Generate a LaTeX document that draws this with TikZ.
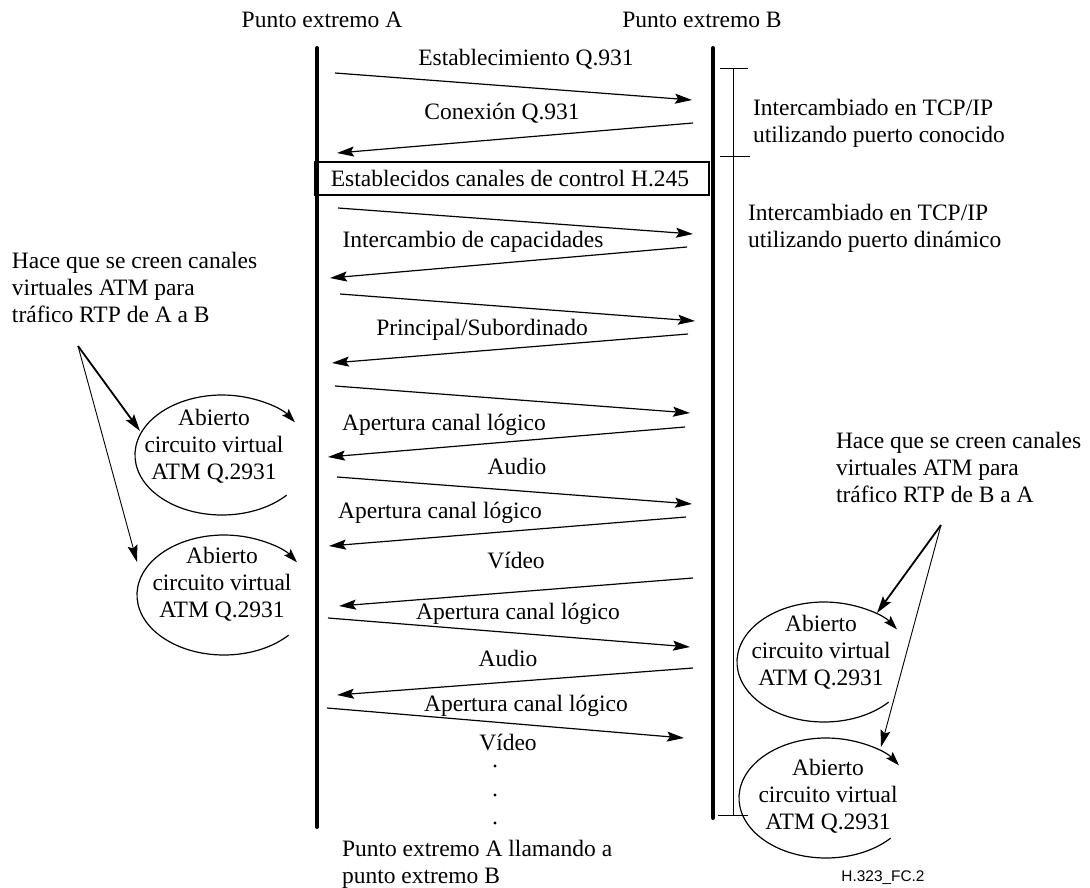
\documentclass[tikz,border=0pt]{standalone}
\usepackage{fontspec}
\setmainfont{Liberation Serif}
\newfontfamily\labelsans{Liberation Sans}
\usetikzlibrary{arrows.meta}
\begin{document}
\begin{tikzpicture}[x=1pt,y=-1pt,
  every node/.style={inner sep=0pt, outer sep=0pt, font=\fontsize{23.5}{27}\selectfont},
  msg/.style={line width=1.2pt, -{Stealth[length=17pt,width=10pt,inset=3pt]}},
  earc/.style={line width=1.2pt, -{Stealth[length=14pt,width=9pt,inset=2.5pt]}},
  annthick/.style={line width=1.8pt, -{Stealth[length=17pt,width=10pt,inset=3pt]}},
  annthin/.style={line width=0.9pt, -{Stealth[length=17pt,width=10pt,inset=3pt]}},
  life/.style={line width=4pt, line cap=round},
  brk/.style={line width=1pt},
  lbl/.style={anchor=base},
  multi/.style={anchor=north west, align=left},
  etext/.style={anchor=north, align=center}]
\fill[white] (0,0) rectangle (1090,888);
\useasboundingbox (0,0) rectangle (1090,888);

% lifelines
\coordinate (Atop) at (317,48); \coordinate (Abot) at (317,827);
\coordinate (Btop) at (713,48); \coordinate (Bbot) at (713,818);
\draw[life] (Atop) -- (Abot);
\draw[life] (Btop) -- (Bbot);
\node[lbl] (hA) at (322,28) {Punto extremo A};
\node[lbl] (hB) at (702,28) {Punto extremo B};

% bracket
\coordinate (k1) at (733,69); \coordinate (k2) at (733,157); \coordinate (k3) at (733,815);
\draw[brk] (k1) -- (k3);
\draw[brk] ([xshift=-13pt]k1) -- ([xshift=15pt]k1);
\draw[brk] ([xshift=-13pt]k2) -- ([xshift=17pt]k2);
\draw[brk] ([xshift=-15pt]k3) -- ([xshift=15pt]k3);
\node[multi] (t1) at (753,99) {Intercambiado en TCP/IP\\utilizando puerto conocido};
\node[multi] (t2) at (748,204) {Intercambiado en TCP/IP\\utilizando puerto dinámico};

% box
\node[draw, line width=1.2pt, minimum width=394pt, minimum height=33pt, anchor=north west] (box) at (315,162) {};
\node[lbl] (boxt) at (510,186) {Establecidos canales de control H.245};

% messages
\foreach \i/\xa/\ya/\xb/\yb in {
  1/335/73/692/100, 2/693/123/337/153, 3/338/208/693/234, 4/687/247/330/278,
  5/340/294/695/321, 6/688/334/332/363, 7/335/386/690/413, 8/685/427/328/457,
  9/337/477/692/504, 10/686/517/329/546, 11/693/578/339/606, 12/328/618/690/647,
  13/693/668/337/695, 14/327/708/684/738} {
  \coordinate (s\i) at (\xa,\ya);
  \coordinate (e\i) at (\xb,\yb);
  \draw[msg] (s\i) -- (e\i);
}
\node[lbl] (m1) at (526,66) {Establecimiento Q.931};
\node[lbl] (m2) at (502,120) {Conexión Q.931};
\node[lbl] (m3) at (473,247) {Intercambio de capacidades};
\node[lbl] (m4) at (482,335) {Principal/Subordinado};
\node[lbl] (m5) at (444,430) {Apertura canal lógico};
\node[lbl] (m6) at (517,474) {Audio};
\node[lbl] (m7) at (440,518) {Apertura canal lógico};
\node[lbl] (m8) at (516,568) {Vídeo};
\node[lbl] (m9) at (518,619) {Apertura canal lógico};
\node[lbl] (m10) at (508,666) {Audio};
\node[lbl] (m11) at (526,711) {Apertura canal lógico};
\node[lbl] (m12) at (508,750) {Vídeo};

% dots
\foreach \j/\yy in {1/766,2/795,3/823} {
  \coordinate (d\j) at (495,\yy);
  \fill (d\j) circle (1.6pt);
}

\node[multi] (foot) at (342,840) {Punto extremo A llamando a\\punto extremo B};
\node[lbl, font=\labelsans\fontsize{15.4}{18}\selectfont] (code) at (883,881) {H.323\_FC.2};

% left annotation
\node[multi] (annL) at (12,252) {Hace que se creen canales\\virtuales ATM para\\tráfico RTP de A a B};
\coordinate (oL) at (78,346);
\coordinate (c1) at (222,455);
\coordinate (c2) at (224,595);
\node[etext] (el1) at (214,409) {Abierto\\circuito virtual\\ATM Q.2931};
\node[etext] (el2) at (222,547) {Abierto\\circuito virtual\\ATM Q.2931};
\draw[earc] ([shift={(-42:87pt and 60pt)}]c1) arc[start angle=-42, end angle=-327, x radius=87pt, y radius=60pt];
\draw[earc] ([shift={(-42:87pt and 60pt)}]c2) arc[start angle=-42, end angle=-327, x radius=87pt, y radius=60pt];
\coordinate (pL1) at (140,431);
\coordinate (pL2) at (137,562);
\draw[annthick] (oL) -- (pL1);
\draw[annthin] (oL) -- (pL2);

% right annotation
\node[multi] (annR) at (836,432) {Hace que se creen canales\\virtuales ATM para\\tráfico RTP de B a A};
\coordinate (oR) at (941,525);
\coordinate (c3) at (824,662);
\coordinate (c4) at (826,798);
\node[etext] (el3) at (821,615) {Abierto\\circuito virtual\\ATM Q.2931};
\node[etext] (el4) at (828,759) {Abierto\\circuito virtual\\ATM Q.2931};
\draw[earc] ([shift={(-42:87pt and 60pt)}]c3) arc[start angle=-42, end angle=-327, x radius=87pt, y radius=60pt];
\draw[earc] ([shift={(-42:87pt and 60pt)}]c4) arc[start angle=-42, end angle=-327, x radius=87pt, y radius=60pt];
\coordinate (pR1) at (877,613);
\coordinate (pR2) at (881,747);
\draw[annthick] (oR) -- (pR1);
\draw[annthin] (oR) -- (pR2);
\end{tikzpicture}
\end{document}
